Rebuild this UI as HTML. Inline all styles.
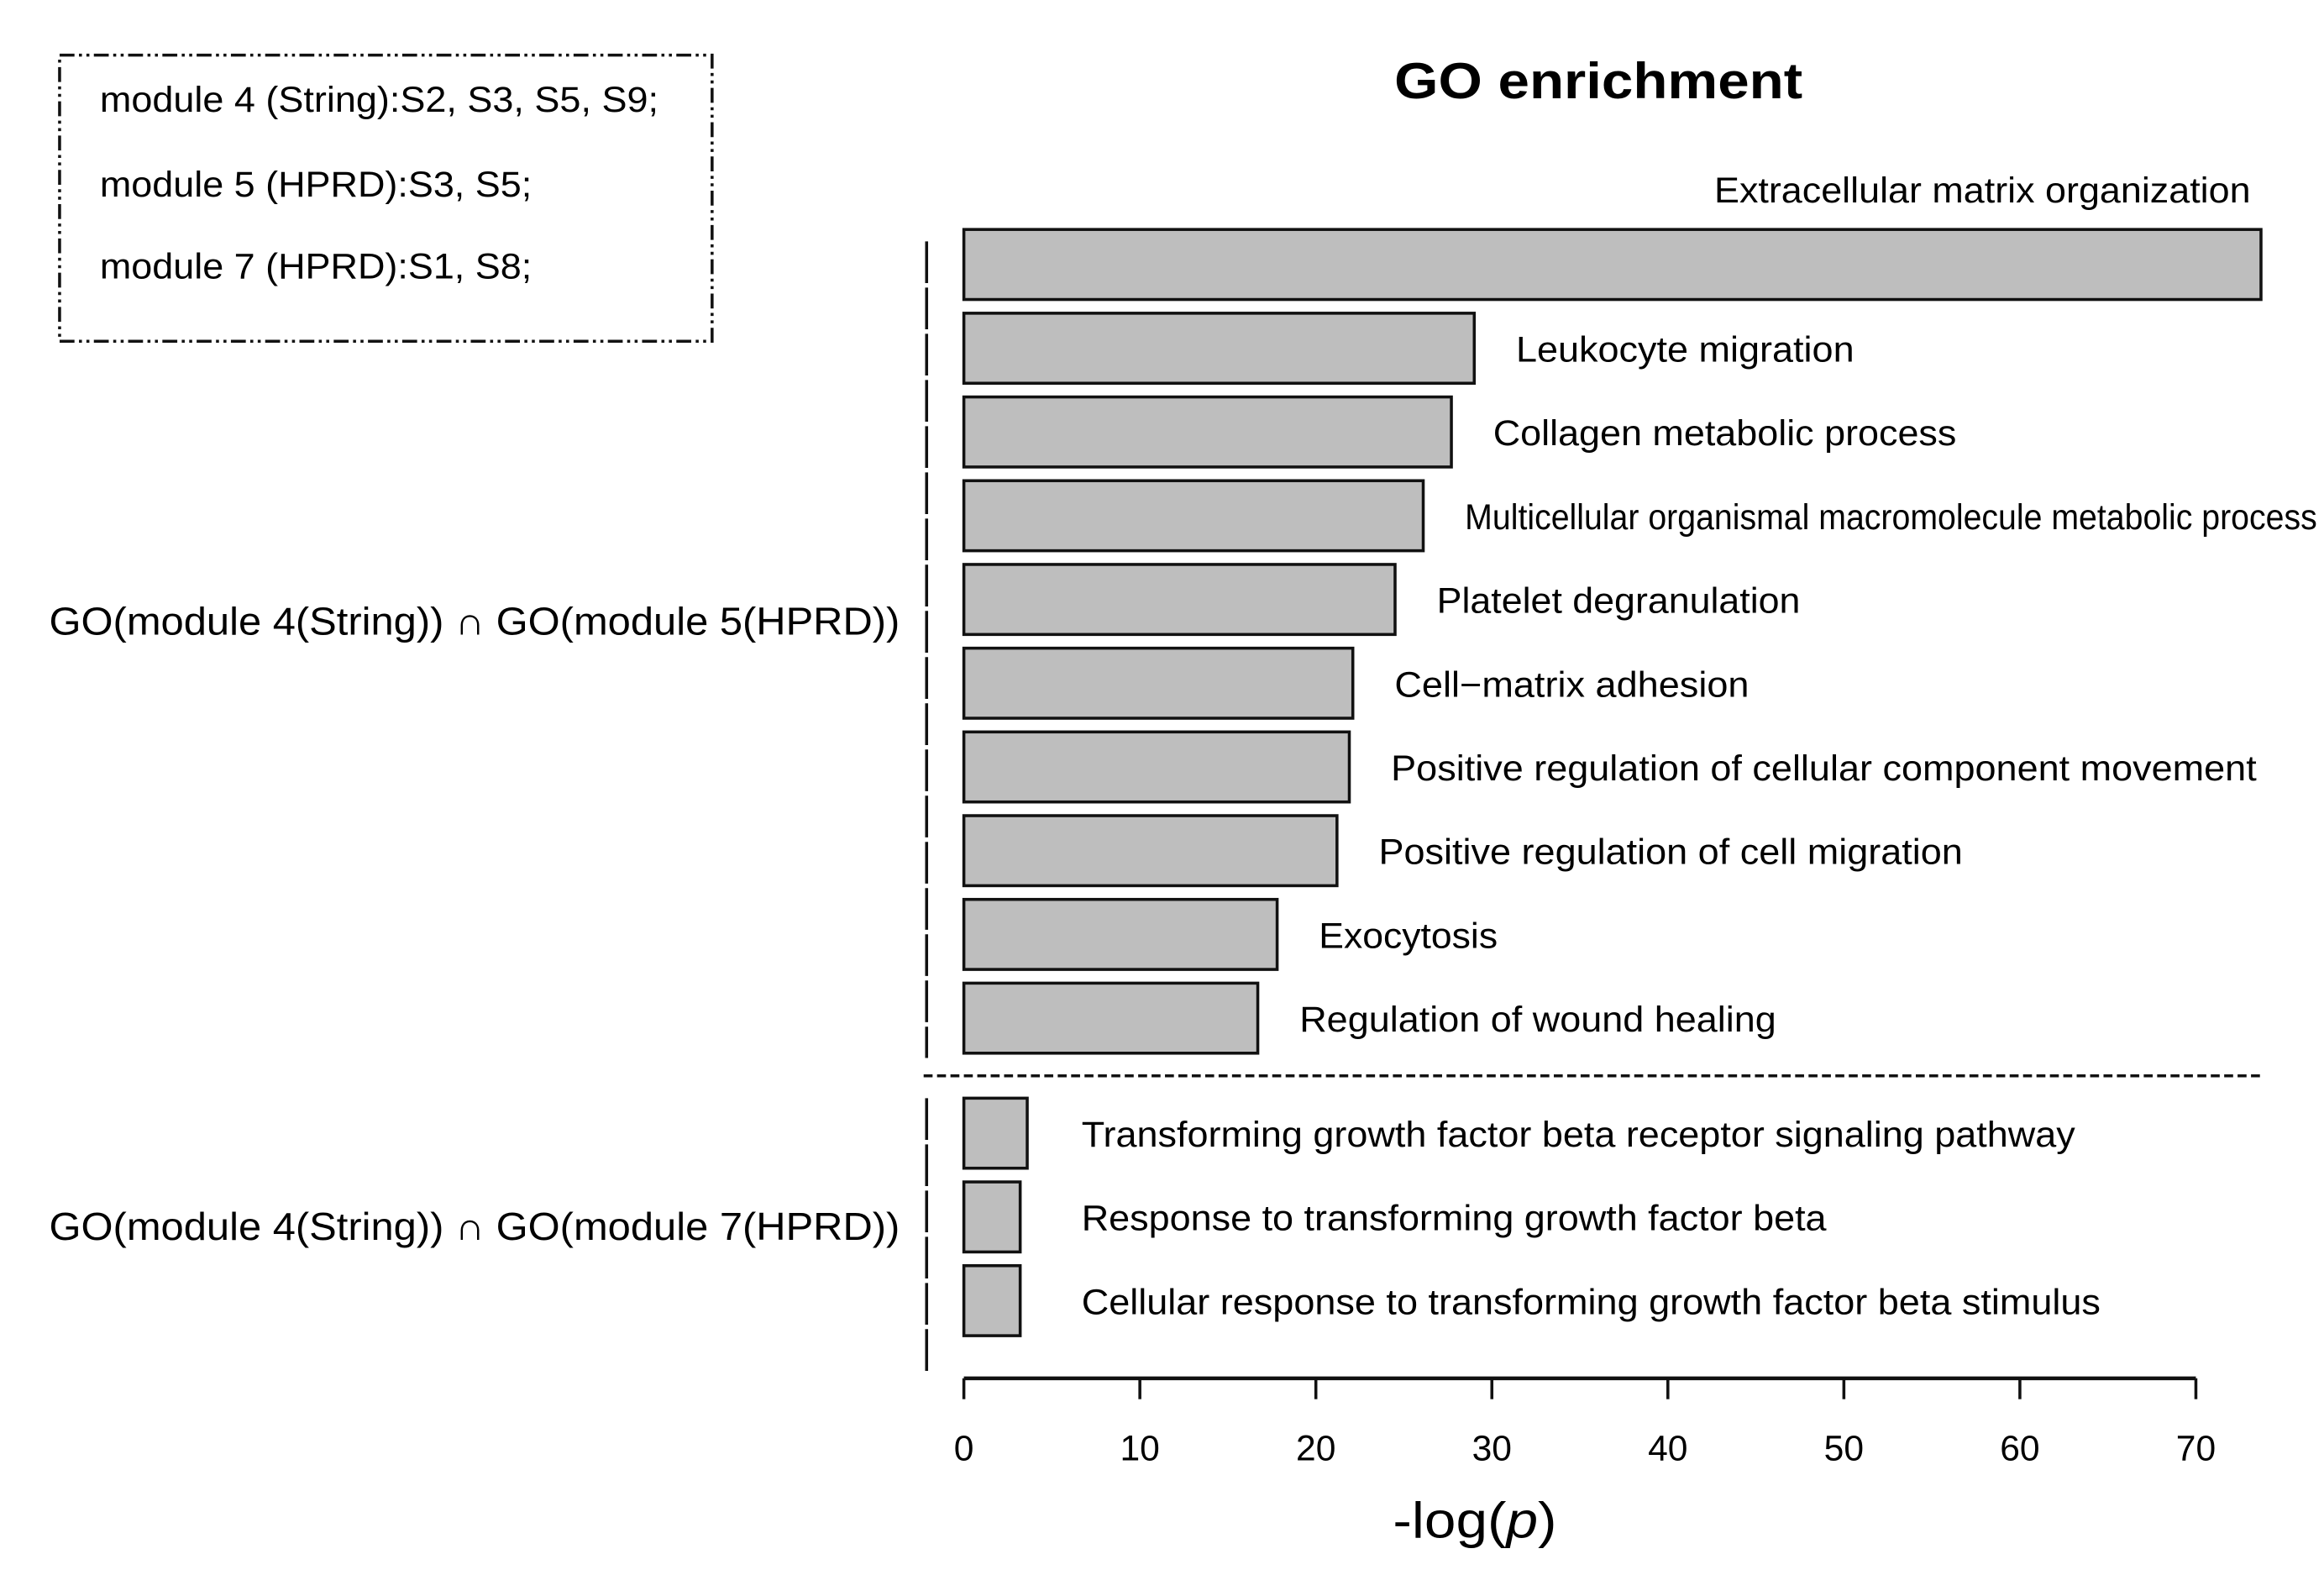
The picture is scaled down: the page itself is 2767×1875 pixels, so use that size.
<!DOCTYPE html>
<html><head><meta charset="utf-8"><style>
html,body{margin:0;padding:0;background:#fff;}
svg{display:block;font-family:"Liberation Sans",Arial,sans-serif;}
</style></head><body>
<svg id="chart" width="2767" height="1875" viewBox="0 0 1560 1057" preserveAspectRatio="none" xmlns="http://www.w3.org/2000/svg">
<rect x="40" y="37" width="438" height="192" fill="none" stroke="#111" stroke-width="2" stroke-dasharray="10,3,2,3,2,3"/>
<text x="67" y="75" font-size="24" textLength="375" lengthAdjust="spacingAndGlyphs">module 4 (String):S2, S3, S5, S9;</text>
<text x="67" y="132" font-size="24" textLength="290" lengthAdjust="spacingAndGlyphs">module 5 (HPRD):S3, S5;</text>
<text x="67" y="187" font-size="24" textLength="290" lengthAdjust="spacingAndGlyphs">module 7 (HPRD):S1, S8;</text>
<text x="1073" y="66" font-size="34" font-weight="bold" text-anchor="middle" textLength="274" lengthAdjust="spacingAndGlyphs">GO enrichment</text>
<text x="33" y="426" font-size="26" textLength="571" lengthAdjust="spacingAndGlyphs">GO(module 4(String)) ∩ GO(module 5(HPRD))</text>
<text x="33" y="832" font-size="26" textLength="571" lengthAdjust="spacingAndGlyphs">GO(module 4(String)) ∩ GO(module 7(HPRD))</text>
<line x1="622" y1="162" x2="622" y2="710" stroke="#111" stroke-width="2" stroke-dasharray="28,3"/>
<line x1="622" y1="737" x2="622" y2="922" stroke="#111" stroke-width="2" stroke-dasharray="28,3"/>
<line x1="620" y1="722" x2="1517" y2="722" stroke="#111" stroke-width="2" stroke-dasharray="6,3"/>
<g id="bars"></g>
<g id="axis"></g>
<text x="990" y="1032" font-size="34" text-anchor="middle" textLength="110" lengthAdjust="spacingAndGlyphs">-log(<tspan font-style="italic">p</tspan>)</text>
</svg>
<script>
const categories = ["Extracellular matrix organization","Leukocyte migration","Collagen metabolic process","Multicellular organismal macromolecule metabolic process","Platelet degranulation","Cell\u2212matrix adhesion","Positive regulation of cellular component movement","Positive regulation of cell migration","Exocytosis","Regulation of wound healing","Transforming growth factor beta receptor signaling pathway","Response to transforming growth factor beta","Cellular response to transforming growth factor beta stimulus"];
const values = [73.7,29.0,27.7,26.1,24.5,22.1,21.9,21.2,17.8,16.7,3.6,3.2,3.2];
const groups = [1,1,1,1,1,1,1,1,1,1,2,2,2];
const labelWidths = [360,227,311,572,244,238,581,392,120,320,667,500,684];
const ticks = [0,10,20,30,40,50,60,70];

const NS="http://www.w3.org/2000/svg";
const x0=647, pxPerUnit=(1474-647)/70;
function xs(v){return x0+v*pxPerUnit;}
function ys(i){return i<10 ? 154+i*56.2 : 737+(i-10)*56.2;}
const barH=47;
const bars=document.getElementById('bars');
categories.forEach((c,i)=>{
  const r=document.createElementNS(NS,'rect');
  
  
  r.setAttribute('x',xs(0));r.setAttribute('y',ys(i));
  r.setAttribute('width',xs(values[i])-xs(0));r.setAttribute('height',barH);
  r.setAttribute('fill','#bebebe');r.setAttribute('stroke','#111');r.setAttribute('stroke-width','2');
  bars.appendChild(r);
  const t=document.createElementNS(NS,'text');
  
  
  let tx, ty;
  if(i===0){tx=xs(values[i])-7-labelWidths[i];ty=ys(i)-18;}
  else if(i>=10){tx=726;ty=ys(i)+barH/2+9;}
  else {tx=xs(values[i])+28;ty=ys(i)+barH/2+9;}
  t.setAttribute('x',tx);t.setAttribute('y',ty);
  t.setAttribute('font-size','24');
  t.setAttribute('textLength',labelWidths[i]);
  t.setAttribute('lengthAdjust','spacingAndGlyphs');
  t.textContent=c;
  bars.appendChild(t);
});
const axis=document.getElementById('axis');
const al=document.createElementNS(NS,'line');


al.setAttribute('x1',xs(ticks[0]));al.setAttribute('x2',xs(ticks[ticks.length-1]));
al.setAttribute('y1',925);al.setAttribute('y2',925);al.setAttribute('stroke','#111');al.setAttribute('stroke-width','2.5');
axis.appendChild(al);
ticks.forEach(v=>{
  const l=document.createElementNS(NS,'line');
  
  
  l.setAttribute('x1',xs(v));l.setAttribute('x2',xs(v));l.setAttribute('y1',925);l.setAttribute('y2',939);
  l.setAttribute('stroke','#111');l.setAttribute('stroke-width','2');
  axis.appendChild(l);
  const t=document.createElementNS(NS,'text');
  
  
  t.setAttribute('x',xs(v));t.setAttribute('y',980);t.setAttribute('font-size','24');
  t.setAttribute('text-anchor','middle');
  t.textContent=v;
  axis.appendChild(t);
});
</script>
</body></html>
